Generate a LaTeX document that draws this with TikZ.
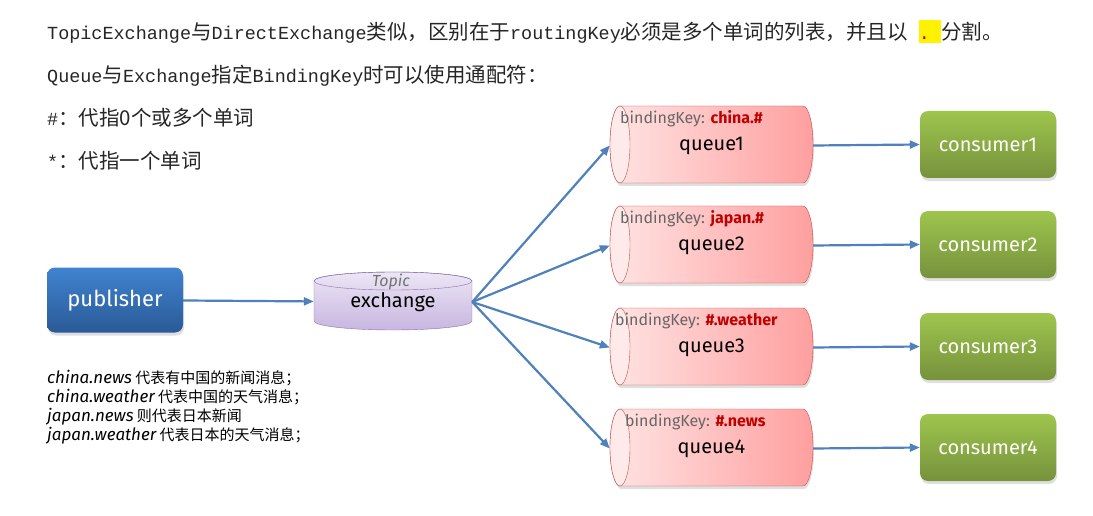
\documentclass[tikz,border=0pt]{standalone}
\usepackage{fontspec}
\setmainfont{Liberation Mono}[Scale=0.9]
\newfontfamily\cjk{Noto Sans CJK SC}
\newfontfamily\hand{Fira Sans}
\usepackage{xcolor}
\usetikzlibrary{arrows.meta,shadows}
\definecolor{flowblue}{HTML}{4F81BD}
\definecolor{keyred}{HTML}{C00000}
\definecolor{qedge}{HTML}{C0504D}
\definecolor{qlight}{HTML}{FFE4E4}
\definecolor{qdark}{HTML}{FF9F9F}
\definecolor{qend}{HTML}{FFEAEA}
\definecolor{exedge}{HTML}{8A70B0}
\definecolor{exlight}{HTML}{ECE6F5}
\definecolor{exdark}{HTML}{C8B6E0}
\definecolor{publight}{HTML}{4083CF}
\definecolor{pubdark}{HTML}{2A5A97}
\definecolor{conslight}{HTML}{9EC54D}
\definecolor{consdark}{HTML}{76923C}
\newcommand{\zh}[1]{{\cjk #1}}
\newcommand{\hlt}[1]{{\setlength{\fboxsep}{0pt}\colorbox{yellow}{\rule[-3pt]{0pt}{23pt}#1}}}
% queue lying on its side, #1 = centre y
\newcommand{\qcyl}[1]{
  \shade[left color=qlight,right color=qdark,draw=qedge,drop shadow={opacity=0.25,shadow xshift=1pt,shadow yshift=-3pt}]
    (620,#1-38.5) -- (803,#1-38.5) arc[start angle=-90,end angle=90,x radius=10,y radius=38.5]
    -- (620,#1+38.5) arc[start angle=90,end angle=270,x radius=10,y radius=38.5] -- cycle;
  \draw[qedge,fill=qend] (620,#1) ellipse [x radius=10,y radius=38.5];}

\begin{document}
\begin{tikzpicture}[x=1pt,y=-1pt,
  topline/.style={anchor=base west,inner sep=0pt,text=black!85,font=\fontsize{20.5}{24}\selectfont},
  notetext/.style={anchor=base west,inner sep=0pt,font=\cjk\fontsize{15}{19}\selectfont},
  pubbox/.style={rounded corners=8pt,minimum width=136pt,minimum height=65pt,top color=publight,bottom color=pubdark,
    text=white,font=\hand\fontsize{22}{24}\selectfont,drop shadow={opacity=0.25,shadow xshift=1pt,shadow yshift=-3pt}},
  consbox/.style={rounded corners=8pt,minimum width=136pt,minimum height=67pt,top color=conslight,bottom color=consdark,
    text=white,font=\hand\fontsize{20}{24}\selectfont,drop shadow={opacity=0.25,shadow xshift=1pt,shadow yshift=-3pt}},
  qlabel/.style={minimum width=203pt,minimum height=77pt,inner sep=0pt,font=\hand\fontsize{20}{24}\selectfont},
  keylabel/.style={anchor=west,inner sep=0pt,text=black!60,font=\hand\fontsize{16}{19}\selectfont},
  flow/.style={draw=flowblue,line width=2.2pt,-{Triangle[length=10pt,width=8pt]}}]
\fill[white] (0,0) rectangle (1093,516);
\useasboundingbox (0,0) rectangle (1093,516);
% ---- TEXT AT THE TOP ----
\node[topline] (l1) at (47,40) {TopicExchange\zh{与}DirectExchange\zh{类似，区别在于}routingKey\zh{必须是多个单词的列表，并且以} \hlt{\textcolor{keyred}{.}\ }\zh{分割。}};
\node[topline] (l2) at (47,83) {Queue\zh{与}Exchange\zh{指定}BindingKey\zh{时可以使用通配符：}};
\node[topline] (l3) at (47,126) {\#\zh{：代指0个或多个单词}};
\node[topline] (l4) at (47,168) {*\zh{：代指一个单词}};
% ---- PUBLISHER AND EXCHANGE ----
\node[pubbox] (pub) at (115,300) {publisher};
\shade[top color=exlight,bottom color=exdark,draw=exedge]
  (314,281) -- (314,321) arc[start angle=180,end angle=0,x radius=79,y radius=9]
  -- (472,281) arc[start angle=0,end angle=-180,x radius=79,y radius=9] -- cycle;
\draw[exedge] (393,281) ellipse [x radius=79,y radius=9];
\node[minimum width=158pt,minimum height=40pt,inner sep=0pt,font=\hand\fontsize{20}{24}\selectfont] (ex) at (393,302) {exchange};
\node[inner sep=0pt,text=black!55,font=\hand\itshape\fontsize{16}{19}\selectfont] (extopic) at (391,282) {Topic};
\draw[flow] (pub) -- (ex);
% ---- QUEUES AND CONSUMERS ----
\foreach \i/\yc/\kx/\key in {1/144.5/620/china.\#,2/244.5/620/japan.\#,3/346.5/615/\#.weather,4/447.5/625/\#.news}{
  \qcyl{\yc}
  \node[qlabel] (q\i) at (711.5,\yc+1) {queue\i};
  \node[keylabel] (k\i) at (\kx,\yc-26) {bindingKey: \textcolor{keyred}{\bfseries\key}};
  \node[consbox] (c\i) at (988,\yc) {consumer\i};
  \draw[flow] (ex.east) -- (q\i.west);
  \draw[flow] (q\i.east) -- (c\i.west);}
% ---- ROUTING KEY EXAMPLES ----
\foreach \i/\rk/\txt in {1/china.news/代表有中国的新闻消息；,2/china.weather/代表中国的天气消息；,3/japan.news/则代表日本新闻,4/japan.weather/代表日本的天气消息；}{
  \node[notetext] (n\i) at (47,364+19*\i) {{\hand\itshape\fontsize{17}{19}\selectfont\rk} \txt};}
\end{tikzpicture}
\end{document}
